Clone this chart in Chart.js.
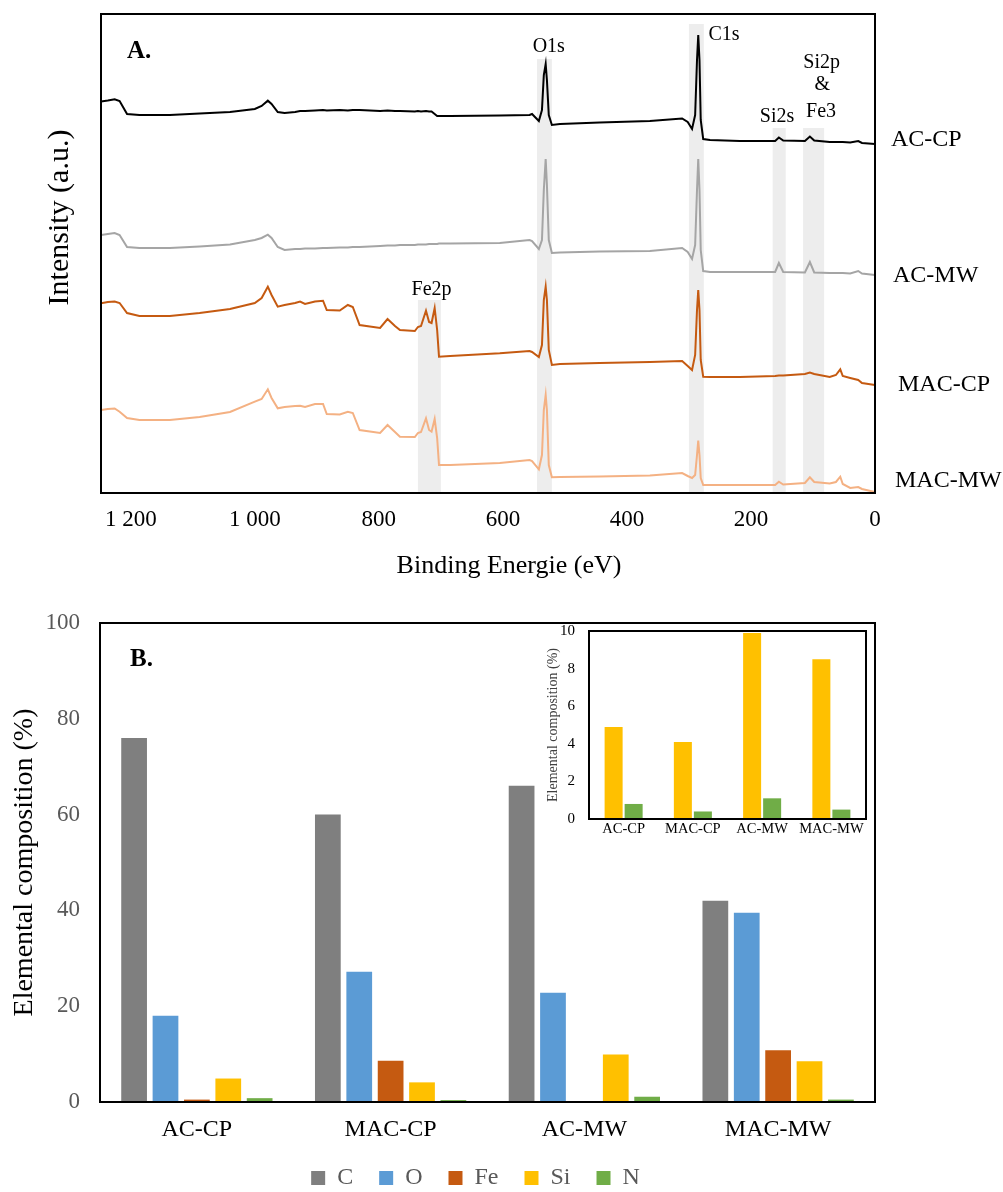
<!DOCTYPE html>
<html>
<head>
<meta charset="utf-8">
<script src="https://cdn.jsdelivr.net/npm/chart.js@4.4.1/dist/chart.umd.min.js"></script>
<style>
  html, body { margin: 0; padding: 0; background: #fff; overflow: hidden; }
  #wrap { position: relative; width: 1003px; height: 1192px; }
  canvas { position: absolute; }
  #xpsChart { left: 0; top: 0; }
  #compChart { left: 0; top: 600px; }
  #insetChart { left: 538px; top: 622px; }
</style>
</head>
<body>
<div id="wrap">
  <canvas id="xpsChart" width="1003" height="600"></canvas>
  <canvas id="compChart" width="951" height="600"></canvas>
  <canvas id="insetChart" width="333" height="240"></canvas>
</div>
<script>
// XPS survey spectra, binding energy (eV) and stacked intensity (a.u.)
const energy = [1248, 1237, 1226, 1218, 1206, 1186, 1137, 1089, 1040, 1000,
  989, 979, 973, 963, 952, 935, 927, 919, 903, 890,
  884, 863, 850, 842, 831, 798, 786, 774, 766, 742,
  737, 732, 724, 719, 715, 710, 706, 703, 685, 605,
  557, 553, 542, 537, 534, 531, 529, 526, 521, 508,
  444, 363, 311, 302, 295, 290, 287, 285, 283, 281,
  277, 266, 218, 161, 155, 148, 113, 105, 98, 73,
  63, 56, 52, 40, 27, 21, 0];

const acCp = [391.5, 392.5, 393.7, 392, 379, 378, 378, 379.5, 381, 384,
  387, 392.3, 389, 381, 380, 381, 382, 382, 382.5, 383,
  382.5, 383, 382.5, 383, 383, 382, 382.5, 382, 382, 381.5,
  382, 381.5, 382, 381.5, 381.5, 379, 377, 377, 377, 377.5,
  378, 379, 372, 383, 418, 429, 413, 378, 368, 369,
  370.5, 372, 374.5, 371, 364, 378, 433, 458, 433, 373,
  354, 353, 352, 352, 355.5, 352.5, 352, 356.5, 352.5, 351,
  351, 351, 351, 350.5, 352, 350, 349];

const acMw = [258, 259, 260, 258, 246, 245, 245, 246.5, 248.5, 253,
  255, 258.3, 255, 246, 243, 244, 244, 244.5, 244.5, 245,
  245, 245.5, 245.5, 246, 246, 247, 247.5, 247.5, 248, 248,
  248.5, 248.5, 248.5, 249, 249, 249, 249, 249.5, 249.5, 250,
  253, 252, 244, 253, 303, 334, 308, 253, 240, 240.5,
  241.5, 242, 245, 241, 234, 248, 303, 334, 303, 243,
  222, 221, 221, 221, 230, 221, 220.5, 231, 220.5, 220,
  220, 220, 220, 219.5, 222, 219.5, 218];

const macCp = [189.7, 191, 191.5, 190, 180, 177, 177, 180, 184, 190,
  195, 206.3, 198, 186.3, 188, 190, 191.5, 189, 191.5, 192.3,
  183, 182.5, 188, 186, 168, 165, 174, 167, 163, 162,
  166, 167, 182.3, 171, 170, 185, 163, 136.3, 137, 139.7,
  142, 141, 136, 148, 193, 206.3, 193, 143, 128, 129,
  130, 131, 132, 127, 123, 138, 183, 203, 183, 133,
  116.3, 116, 116, 117, 117.5, 117.5, 119, 120.5, 119, 116,
  118, 123.7, 117, 115, 113, 110, 108];

const macMw = [83, 84, 84.5, 81.3, 75, 73, 73, 76, 81, 91.3,
  94, 103.7, 95, 84.7, 86, 87, 87.3, 86, 89, 89,
  79, 78.5, 81.3, 80, 63, 60, 68, 61, 56.3, 56,
  60, 61, 74.7, 63, 61.3, 74, 55, 28, 28, 30,
  33, 32, 23.7, 38, 83, 98, 83, 28, 15.7, 16,
  16.5, 17.5, 20, 17, 15, 18, 38, 52.3, 38, 15,
  8, 8, 8, 8, 11.3, 8.5, 10, 15.7, 11, 9.5,
  11, 16.3, 9, 5, 6, 4, 1];

const energyTicks = [0, 200, 400, 600, 800, 1000, 1200];

// shaded regions of the assigned photoelectron lines
const bandFrom = [737, 545, 300, 165, 116];
const bandTo = [700, 521, 276, 144, 82];
const bandTop = [193, 434, 469, 365, 365];

const peakNames = ['Fe2p', 'O1s', 'C1s', 'Si2s', 'Si2p', '&', 'Fe3'];
const peakEnergy = [715, 526, 243.5, 158, 86, 85, 87];
const peakLevel = [203, 446, 458, 376, 430, 408, 381];

// surface elemental composition (%)
const samples = ['AC-CP', 'MAC-CP', 'AC-MW', 'MAC-MW'];
const carbon = [76, 60, 66, 42];
const oxygen = [18, 27.2, 22.8, 39.5];
const iron = [0.5, 8.6, 0.2, 10.8];
const silicon = [4.9, 4.1, 9.9, 8.5];
const nitrogen = [0.8, 0.4, 1.1, 0.5];

const SERIF = '"Liberation Serif", "Times New Roman", serif';
Chart.defaults.font.family = SERIF;
Chart.defaults.color = '#000';

const noGrid = { display: false, drawTicks: false };
const noBorder = { display: false };

const toPoints = vals => energy.map((e, i) => ({ x: e, y: vals[i] }));

// fixed axis size, without the extra room chart.js keeps for edge labels
const fixedSize = (w, h) => scale => {
  if (w != null) scale.width = w;
  if (h != null) scale.height = h;
  scale.paddingTop = 0;
  scale.paddingBottom = 0;
  scale.paddingLeft = 0;
  scale.paddingRight = 0;
};

// label offsets for the sample names at the right end of each trace
const tagGap = [16, 18, 23, 20];
const tagShift = [-4, 1, 0, -11];

const frame = {
  id: 'frame',
  afterDatasetsDraw(chart) {
    const { ctx, chartArea: a } = chart;
    ctx.save();
    ctx.strokeStyle = '#000';
    ctx.lineWidth = 2;
    ctx.strokeRect(a.left, a.top, a.right - a.left, a.bottom - a.top);
    ctx.restore();
  }
};

const xpsDecor = {
  id: 'xpsDecor',
  beforeDatasetsDraw(chart) {
    const { ctx, chartArea: a, scales: { x, y } } = chart;
    ctx.save();
    ctx.fillStyle = '#ededed';
    bandFrom.forEach((e, i) => {
      const x0 = x.getPixelForValue(e);
      const x1 = x.getPixelForValue(bandTo[i]);
      const yt = y.getPixelForValue(bandTop[i]);
      ctx.fillRect(x0, yt, x1 - x0, a.bottom - yt);
    });
    ctx.restore();
  },
  afterDraw(chart) {
    const { ctx, chartArea: a, scales: { x, y } } = chart;
    ctx.save();
    ctx.fillStyle = '#000';
    ctx.textBaseline = 'middle';

    ctx.textAlign = 'center';
    ctx.font = '20px ' + SERIF;
    peakNames.forEach((name, i) => {
      ctx.fillText(name, x.getPixelForValue(peakEnergy[i]), y.getPixelForValue(peakLevel[i]));
    });

    ctx.textAlign = 'left';
    ctx.font = '24px ' + SERIF;
    chart.data.datasets.forEach((ds, i) => {
      const last = ds.data[ds.data.length - 1];
      ctx.fillText(ds.label, a.right + tagGap[i], y.getPixelForValue(last.y) + tagShift[i]);
    });

    ctx.font = 'bold 25px ' + SERIF;
    ctx.fillText('A.', a.left + 26, a.top + 38);

    ctx.textAlign = 'center';
    ctx.font = '26px ' + SERIF;
    ctx.fillText('Binding Energie (eV)', (a.left + a.right) / 2 + 21, a.bottom + 73);

    ctx.translate(60, (a.top + a.bottom) / 2 - 36);
    ctx.rotate(-Math.PI / 2);
    ctx.font = '30px ' + SERIF;
    ctx.fillText('Intensity (a.u.)', 0, 0);
    ctx.restore();
  }
};

new Chart(document.getElementById('xpsChart'), {
  type: 'line',
  data: {
    datasets: [
      { label: 'AC-CP', data: toPoints(acCp), borderColor: '#000000' },
      { label: 'AC-MW', data: toPoints(acMw), borderColor: '#a5a5a5' },
      { label: 'MAC-CP', data: toPoints(macCp), borderColor: '#c55a11' },
      { label: 'MAC-MW', data: toPoints(macMw), borderColor: '#f4b183' }
    ]
  },
  options: {
    responsive: false,
    animation: false,
    layout: { padding: { top: 14, right: 128, left: 0, bottom: 0 } },
    elements: {
      line: { borderWidth: 2, tension: 0 },
      point: { radius: 0 }
    },
    plugins: { legend: { display: false }, tooltip: { enabled: false } },
    scales: {
      x: {
        type: 'linear',
        reverse: true,
        min: 0,
        max: 1248,
        grid: noGrid,
        border: noBorder,
        afterBuildTicks(scale) {
          scale.ticks = energyTicks.map(v => ({ value: v }));
        },
        ticks: {
          color: '#000',
          padding: 13,
          font: { size: 23 },
          callback: v => v >= 1000 ? Math.floor(v / 1000) + ' ' + String(v % 1000).padStart(3, '0') : String(v)
        },
        afterFit: fixedSize(null, 107)
      },
      y: {
        min: 0,
        max: 479,
        grid: noGrid,
        border: noBorder,
        ticks: { display: false },
        afterFit: fixedSize(101, null)
      }
    }
  },
  plugins: [xpsDecor, frame]
});

const panelLetter = {
  id: 'panelLetter',
  afterDraw(chart) {
    const { ctx, chartArea: a } = chart;
    ctx.save();
    ctx.fillStyle = '#000';
    ctx.textBaseline = 'middle';
    ctx.textAlign = 'left';
    ctx.font = 'bold 25px ' + SERIF;
    ctx.fillText('B.', a.left + 30, a.top + 37);
    ctx.restore();
  }
};

// centre the legend row under the whole figure rather than the plot
const legendShift = {
  id: 'legendShift',
  afterLayout(chart) {
    chart.legend.left += 38;
    chart.legend.right += 38;
  }
};

new Chart(document.getElementById('compChart'), {
  type: 'bar',
  data: {
    labels: samples,
    datasets: [
      { label: 'C', data: carbon, backgroundColor: '#7f7f7f' },
      { label: 'O', data: oxygen, backgroundColor: '#5b9bd5' },
      { label: 'Fe', data: iron, backgroundColor: '#c55a11' },
      { label: 'Si', data: silicon, backgroundColor: '#ffc000' },
      { label: 'N', data: nitrogen, backgroundColor: '#70ad47' }
    ]
  },
  options: {
    responsive: false,
    animation: false,
    layout: { padding: { top: 23, right: 76, left: 0, bottom: 0 } },
    datasets: { bar: { categoryPercentage: 0.81, barPercentage: 0.82 } },
    plugins: {
      tooltip: { enabled: false },
      legend: {
        position: 'bottom',
        labels: {
          boxWidth: 14,
          boxHeight: 14,
          padding: 26,
          color: '#595959',
          font: { size: 24 }
        }
      }
    },
    scales: {
      x: {
        grid: noGrid,
        border: noBorder,
        ticks: { color: '#000', padding: 13.6, font: { size: 24 } },
        afterFit: fixedSize(null, 38)
      },
      y: {
        min: 0,
        max: 100,
        grid: noGrid,
        border: noBorder,
        ticks: { stepSize: 20, color: '#595959', padding: 20, font: { size: 23 } },
        title: {
          display: true,
          text: 'Elemental composition (%)',
          color: '#000',
          font: { size: 28 },
          padding: { top: 8, bottom: 0 }
        },
        afterFit: fixedSize(100, null)
      }
    }
  },
  plugins: [frame, panelLetter, legendShift]
});

// inset: minor elements only
new Chart(document.getElementById('insetChart'), {
  type: 'bar',
  data: {
    labels: samples,
    datasets: [
      { label: 'Si', data: silicon, backgroundColor: '#ffc000' },
      { label: 'N', data: nitrogen, backgroundColor: '#70ad47' }
    ]
  },
  options: {
    responsive: false,
    animation: false,
    layout: { padding: { top: 9, right: 5, left: 0, bottom: 0 } },
    datasets: { bar: { categoryPercentage: 0.578, barPercentage: 0.9 } },
    plugins: { legend: { display: false }, tooltip: { enabled: false } },
    scales: {
      x: {
        grid: noGrid,
        border: noBorder,
        ticks: { color: '#000', padding: 1, autoSkip: false, maxRotation: 0, minRotation: 0, font: { size: 14.5 } },
        afterFit: fixedSize(null, 43)
      },
      y: {
        min: 0,
        max: 10,
        grid: noGrid,
        border: noBorder,
        ticks: { stepSize: 2, color: '#000', padding: 14, font: { size: 15 } },
        title: {
          display: true,
          text: 'Elemental composition (%)',
          color: '#404040',
          font: { size: 14 },
          padding: { top: 7, bottom: 0 }
        },
        afterFit: fixedSize(51, null)
      }
    }
  },
  plugins: [frame]
});
</script>
</body>
</html>
